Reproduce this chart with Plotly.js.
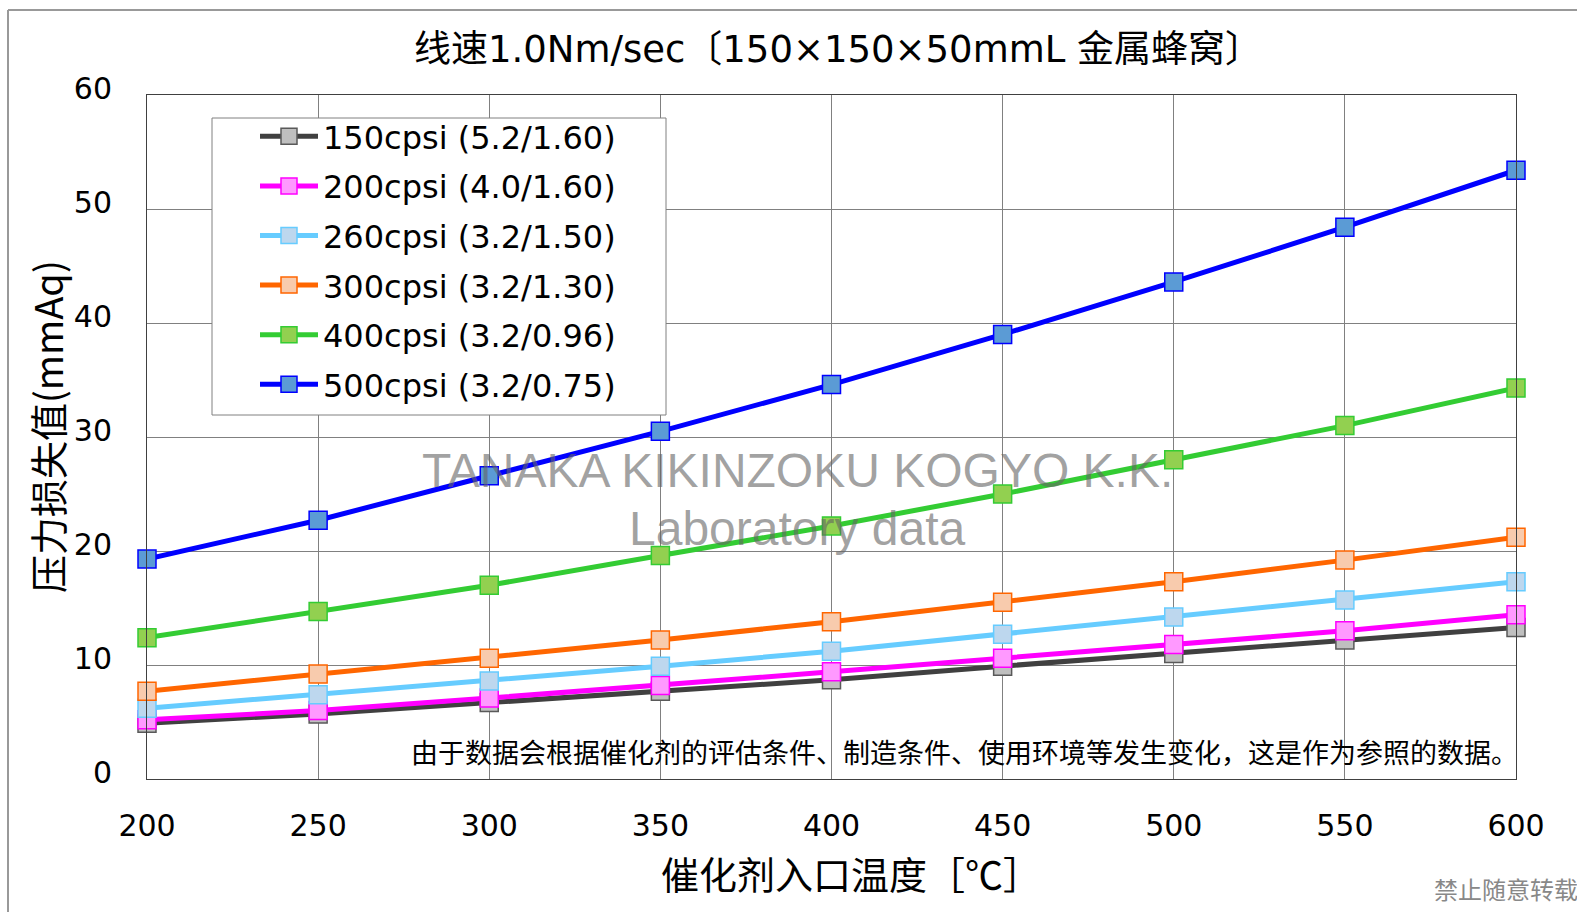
<!DOCTYPE html>
<html>
<head>
<meta charset="utf-8">
<script src="https://cdn.plot.ly/plotly-3.0.1.min.js"></script>
<style>html,body{margin:0;padding:0;background:#fff;}#chart{width:1577px;height:912px;}</style>
</head>
<body>
<div id="chart"></div>
<script>
// ---- data ----
const temperatures = [200, 250, 300, 350, 400, 450, 500, 550, 600];
const seriesNames = [
  "150cpsi (5.2/1.60)",
  "200cpsi (4.0/1.60)",
  "260cpsi (3.2/1.50)",
  "300cpsi (3.2/1.30)",
  "400cpsi (3.2/0.96)",
  "500cpsi (3.2/0.75)"
];
const cpsi150 = [4.9, 5.7, 6.7, 7.7, 8.7, 9.9, 11.0, 12.2, 13.3];
const cpsi200 = [5.2, 6.0, 7.1, 8.2, 9.4, 10.6, 11.8, 13.0, 14.4];
const cpsi260 = [6.2, 7.4, 8.6, 9.9, 11.2, 12.7, 14.2, 15.7, 17.3];
const cpsi300 = [7.7, 9.2, 10.6, 12.2, 13.8, 15.5, 17.3, 19.2, 21.2];
const cpsi400 = [12.4, 14.7, 17.0, 19.6, 22.2, 25.0, 28.0, 31.0, 34.3];
const cpsi500 = [19.3, 22.7, 26.6, 30.5, 34.6, 39.0, 43.6, 48.4, 53.4];
const yTickValues = [0, 10, 20, 30, 40, 50, 60];
const xTickValues = [200, 250, 300, 350, 400, 450, 500, 550, 600];

const latinSpan = s => '<span style="font-family:DejaVu Sans">' + s + '</span>';
const titleText = "线速" + latinSpan("1.0Nm/sec") + "〔" + latinSpan("150×150×50mmL ") + "金属蜂窝〕";
const xTitle = "催化剂入口温度［℃］";
const yTitle = "压力损失值(mmAq)";
const noteText = "由于数据会根据催化剂的评估条件、制造条件、使用环境等发生变化，这是作为参照的数据。";
const watermark1 = "TANAKA KIKINZOKU KOGYO K.K.";
const watermark2 = "Laboratory data";
const copyText = "禁止随意转载";

// ---- styles ----
const allSeries = [cpsi150, cpsi200, cpsi260, cpsi300, cpsi400, cpsi500];
const lineColors = ["#404040", "#ff00ff", "#66ccff", "#ff6600", "#33cc33", "#0000ff"];
const fillColors = ["#bfbfbf", "#ff99ff", "#bdd7ee", "#f8cbad", "#92d050", "#5b9bd5"];
const edgeColors = ["#595959", "#ff00ff", "#66ccff", "#ff6600", "#33cc33", "#0000ff"];

const cjk = "'Noto Sans CJK SC', 'Noto Sans', sans-serif";
const latin = "'DejaVu Sans', Verdana, sans-serif";

const traces = allSeries.map((ys, i) => ({
  x: temperatures,
  y: ys,
  name: seriesNames[i],
  type: "scatter",
  mode: "lines+markers",
  cliponaxis: false,
  legendgroup: "g" + i,
  line: {color: lineColors[i], width: 5},
  marker: {symbol: "square", size: 18, color: fillColors[i], line: {color: edgeColors[i], width: 1.5}}
}));

const L = 147, R = 61, T = 95, B = 133;
const W = 1577, H = 912;
const pw = W - L - R, ph = H - T - B;
const px = v => (v - L) / pw;
const py = v => 1 - (v - T) / ph;

const layout = {
  width: W, height: H,
  margin: {l: L, r: R, t: T, b: B, pad: 0},
  paper_bgcolor: "#ffffff",
  plot_bgcolor: "#ffffff",
  showlegend: true,
  title: {
    text: titleText,
    font: {family: cjk, size: 37, color: "#000"},
    x: px(838), xref: "paper", xanchor: "center",
    y: 1 - 49 / H, yref: "container", yanchor: "middle"
  },
  xaxis: {
    range: [200, 600],
    tickvals: xTickValues,
    ticktext: xTickValues.map(String),
    showgrid: true, gridcolor: "#808080", gridwidth: 1,
    zeroline: false,
    showline: true, mirror: true, linecolor: "#404040", linewidth: 1,
    ticks: "", ticklabelstandoff: 20,
    tickfont: {family: latin, size: 30, color: "#000"}
  },
  yaxis: {
    range: [0, 60],
    tickvals: yTickValues,
    ticktext: yTickValues.map(String),
    showgrid: true, gridcolor: "#808080", gridwidth: 1,
    zeroline: false,
    showline: true, mirror: true, linecolor: "#404040", linewidth: 1,
    ticks: "", ticklabelstandoff: 28, ticklabelshift: -7,
    tickfont: {family: latin, size: 30, color: "#000"}
  },
  legend: {
    x: px(255), y: py(109), xanchor: "left", yanchor: "top",
    bgcolor: "rgba(0,0,0,0)", borderwidth: 0,
    font: {family: latin, size: 32, color: "#000"},
    traceorder: "grouped", tracegroupgap: 5, itemwidth: 58
  },
  shapes: [
    {type: "rect", xref: "paper", yref: "paper", x0: px(212), x1: px(666), y0: py(118), y1: py(415),
     fillcolor: "#ffffff", line: {color: "#808080", width: 1}, layer: "above"},
    {type: "line", xref: "paper", yref: "paper", x0: px(8), x1: 1.06, y0: py(10), y1: py(10), line: {color: "#999999", width: 2}},
    {type: "line", xref: "paper", yref: "paper", x0: px(8), x1: px(8), y0: py(10), y1: -0.25, line: {color: "#999999", width: 2}}
  ],
  annotations: [
    {text: xTitle, x: px(851), y: py(873), xref: "paper", yref: "paper", xanchor: "center", yanchor: "middle", showarrow: false,
     font: {family: cjk, size: 38, color: "#000"}},
    {text: yTitle, x: px(46), y: py(427), xref: "paper", yref: "paper", xanchor: "center", yanchor: "middle", showarrow: false,
     textangle: -90, font: {family: cjk, size: 38, color: "#000"}},
    {text: watermark1, x: 390, y: 27.1, xref: "x", yref: "y", showarrow: false,
     font: {family: "'Liberation Sans', Arial, sans-serif", size: 48, color: "rgba(100,100,100,0.6)"}},
    {text: watermark2, x: 390, y: 22.0, xref: "x", yref: "y", showarrow: false,
     font: {family: "'Liberation Sans', Arial, sans-serif", size: 48, color: "rgba(100,100,100,0.6)"}},
    {text: noteText, x: 600, y: 2.4, xref: "x", yref: "y", xanchor: "right", xshift: 4, showarrow: false,
     font: {family: cjk, size: 27, color: "#000"}},
    {text: copyText, x: px(1580), y: py(888), xref: "paper", yref: "paper", xanchor: "right", yanchor: "middle", showarrow: false,
     font: {family: cjk, size: 24, color: "#888888"}}
  ]
};

Plotly.newPlot("chart", traces, layout, {displayModeBar: false, staticPlot: true});
</script>
</body>
</html>
